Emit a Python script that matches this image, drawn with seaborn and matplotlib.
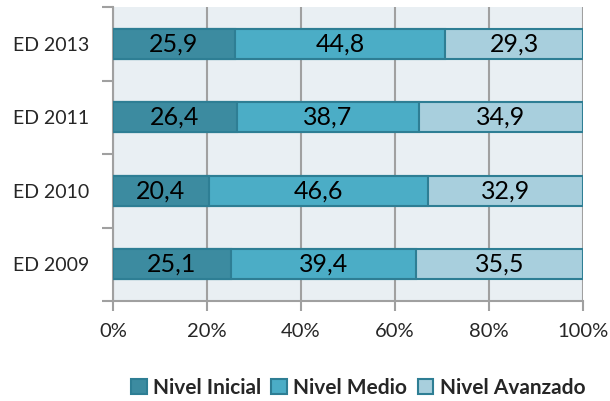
import numpy as np
import pandas as pd
import matplotlib.pyplot as plt
import seaborn as sns
from matplotlib.patches import Patch
from matplotlib.ticker import FixedLocator

# Data (percentages)
categories = ['ED 2013', 'ED 2011', 'ED 2010', 'ED 2009']
inicial = [25.9, 26.4, 20.4, 25.1]
medio = [44.8, 38.7, 46.6, 39.4]
avanzado = [29.3, 34.9, 32.9, 35.5]
series_names = ['Nivel Inicial', 'Nivel Medio', 'Nivel Avanzado']
colors = ['#3C8BA0', '#4BADC6', '#A8CFDD']
edge = '#2E7E94'

df = pd.DataFrame({'cat': categories, 'ini': inicial, 'med': medio, 'ava': avanzado})
df['c1'] = df['ini']
df['c2'] = df['ini'] + df['med']
df['c3'] = df['c2'] + df['ava']

sns.set_style('white')
plt.rcParams['font.family'] = ['Lato', 'DejaVu Sans']

fig, ax = plt.subplots(figsize=(6.1, 4.01), dpi=100)
fig.subplots_adjust(left=0.185, right=0.956, top=0.9825, bottom=0.249)
ax.set_facecolor('#E9EFF3')

# stacked bars drawn as overlapping cumulative bars
for col, c in zip(['c3', 'c2', 'c1'], colors[::-1]):
    sns.barplot(data=df, x=col, y='cat', order=categories, color=c, width=0.41,
                edgecolor=edge, linewidth=1.5, saturation=1, ax=ax, zorder=3)

# value labels
for i in range(len(categories)):
    starts = [0, df['c1'][i], df['c2'][i]]
    vals = [inicial[i], medio[i], avanzado[i]]
    for s, v in zip(starts, vals):
        ax.text(s + v / 2, i, f'{v:.1f}'.replace('.', ','), ha='center', va='center',
                fontsize=18, color='black', zorder=5)

ax.set_xlim(0, 100)
ax.set_ylim(len(categories) - 0.5, -0.5)
ax.set_xticks([0, 20, 40, 60, 80, 100])
ax.set_xticklabels([f'{t}%' for t in [0, 20, 40, 60, 80, 100]], fontsize=14.5)
ax.set_yticks(range(len(categories)))
ax.set_yticklabels(categories, fontsize=14)
ax.yaxis.set_minor_locator(FixedLocator(np.arange(-0.5, len(categories), 1)))
ax.tick_params(axis='y', which='major', length=0, pad=17)
ax.tick_params(axis='y', which='minor', length=8, width=1.5, color='#A0A0A0', left=True)
ax.tick_params(axis='x', length=7, width=1.5, color='#A0A0A0', bottom=True, pad=9)
ax.set_xlabel('')
ax.set_ylabel('')

ax.grid(axis='x', color='#A0A0A0', linewidth=1.5, zorder=0)
ax.set_axisbelow(True)
for side in ['top', 'right']:
    ax.spines[side].set_visible(False)
for side in ['left', 'bottom']:
    ax.spines[side].set_color('#A0A0A0')
    ax.spines[side].set_linewidth(1.5)

handles = [Patch(facecolor=c, edgecolor=edge, linewidth=1.5, label=n) for c, n in zip(colors, series_names)]
fig.legend(handles=handles, loc='center', bbox_to_anchor=(0.587, 0.033), ncol=3, frameon=False,
           prop={'weight': 'bold', 'size': 15}, handlelength=0.75, handleheight=0.75,
           handletextpad=0.3, columnspacing=0.5)

plt.savefig('out.png', dpi=100)
